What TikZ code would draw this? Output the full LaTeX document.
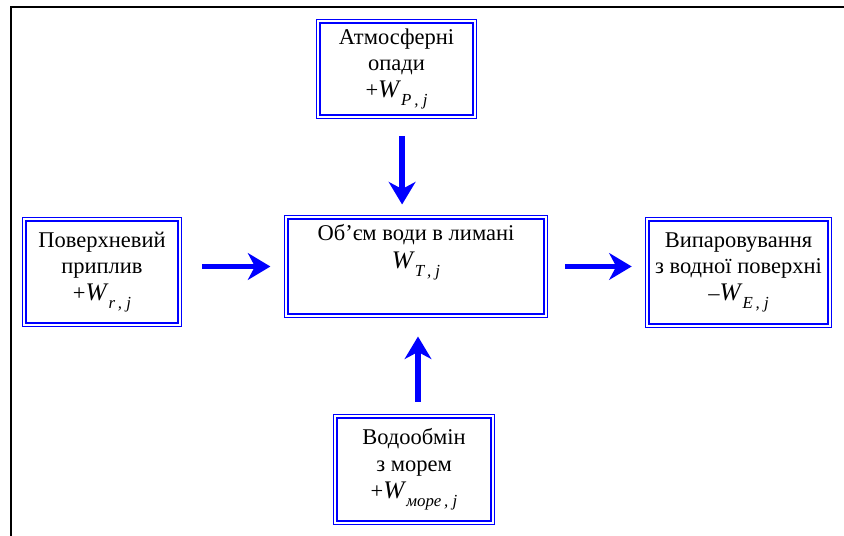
\documentclass[tikz,border=0pt]{standalone}
\usepackage{fontspec}
\setmainfont{Liberation Serif}
\usepackage{xcolor}
\definecolor{colBlue}{HTML}{0000FF}
\definecolor{colFrame}{HTML}{000000}
\usetikzlibrary{arrows.meta, positioning, calc}

\newcommand{\Wind}[1]{{\fontsize{18pt}{18pt}\selectfont\textit{W}}\raisebox{-0.8ex}{\fontsize{12pt}{12pt}\selectfont\textit{#1}}}

\tikzset{
  balbox/.style={draw=colBlue, double=white, double distance=1.3pt, line width=1.1pt,
    align=center, inner sep=0pt, font=\fontsize{16pt}{19pt}\selectfont},
  flow/.style={draw=colBlue, line width=4.2pt,
    -{Stealth[length=16pt, width=19pt, inset=5pt]}},
  frameline/.style={draw=colFrame, line width=1.8pt},
}

\begin{document}
\begin{tikzpicture}[x=0.025cm, y=-0.025cm]
        \useasboundingbox (0,0) rectangle (844,536);
        % === Rahmen ===
        \draw[frameline] (11,536) -- (11,7) -- (844,7);

        % === Bloky ===
        \node[balbox, minimum width=3.91cm, minimum height=2.38cm] (precip) at (396.5,69)
            {Атмосферні\\опади\\+\Wind{P\,, j}};
        \node[balbox, minimum width=3.88cm, minimum height=2.63cm] (inflow) at (102,272)
            {Поверхневий\\приплив\\+\Wind{r\,, j}};
        \node[balbox, minimum width=6.48cm, minimum height=2.46cm] (volume) at (416,266.5)
            {\parbox[c][2.1cm][t]{6.2cm}{\centering Об’єм води в лимані\\[1pt] \Wind{T\,, j}}};
        \node[balbox, minimum width=4.56cm, minimum height=2.66cm] (evap) at (738.5,272.5)
            {Випаровування\\з водної поверхні\\–\Wind{E\,, j}};
        \node[balbox, minimum width=3.93cm, minimum height=2.66cm] (sea) at (414,469.5)
            {Водообмін\\з морем\\+\Wind{море\,, j}};

        % === Strilky ===
        \draw[flow, shorten <=0.47cm, shorten >=0.3cm]
            ([xshift=0.14cm]precip.south) -- ([xshift=0.14cm]precip.south |- volume.north);
        \draw[flow, shorten <=0.55cm, shorten >=0.38cm]
            (inflow.east |- volume) -- (volume.west);
        \draw[flow, shorten <=0.47cm, shorten >=0.37cm]
            (volume.east) -- (volume.east -| evap.west);
        \draw[flow, shorten <=0.35cm, shorten >=0.5cm]
            ([xshift=0.1cm]sea.north) -- ([xshift=0.1cm]sea.north |- volume.south);
\end{tikzpicture}
\end{document}
